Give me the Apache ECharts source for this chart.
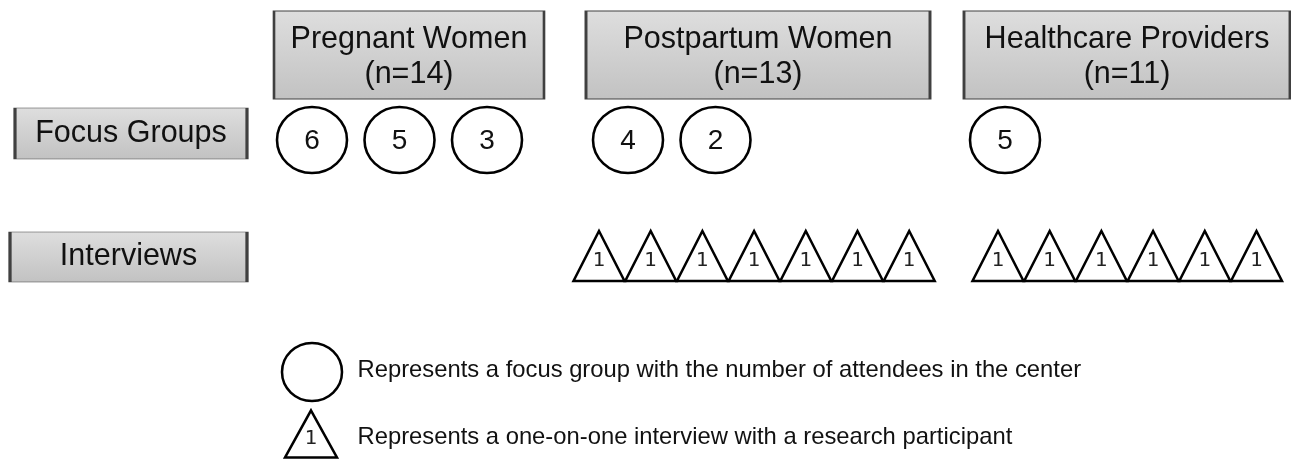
<!DOCTYPE html>
<html>
<head>
<meta charset="utf-8">
<script src="https://cdn.jsdelivr.net/npm/echarts@6/dist/echarts.min.js"></script>
<style>
html,body{margin:0;padding:0;background:#fff;}
#chart{width:1291px;height:464px;}
</style>
</head>
<body>
<div id="chart"></div>
<script>
// ---- data ----
const groups = ['Pregnant Women', 'Postpartum Women', 'Healthcare Providers'];
const groupN = [14, 13, 11];
const rowLabels = ['Focus Groups', 'Interviews'];
const focusGroupSizes = [[6, 5, 3], [4, 2], [5]];
const interviewCounts = [0, 7, 6];
const interviewSize = 1;
const legendTexts = [
  'Represents a focus group with the number of attendees in the center',
  'Represents a one-on-one interview with a research participant'
];

// ---- layout (pixel-space axes) ----
const W = 1291, H = 464;
const headerCx = [409, 758, 1127];
const headerW = [270, 344, 326];
const headerCy = 55, headerH = 88;
const rowBox = [{cx: 131, cy: 133.5, w: 232, h: 51}, {cx: 128.5, cy: 257, w: 237, h: 50}];
const circleStart = [312, 628, 1005], circleStep = 87.5, circleY = 140;
const triStart = [599, 998], triStep = 51.7, triY = 256;
const FONT = 'Liberation Sans, Arial, sans-serif';

const boxGradient = {
  type: 'linear', x: 0, y: 0, x2: 0, y2: 1,
  colorStops: [{offset: 0, color: '#dedede'}, {offset: 1, color: '#c2c2c2'}]
};

const headerData = groups.map((g, i) => ({
  value: [headerCx[i], headerCy], name: g + '\n(n=' + groupN[i] + ')',
  symbolSize: [headerW[i], headerH], label: {offset: [0, 2]}
}));
const rowData = rowLabels.map((r, i) => ({
  value: [rowBox[i].cx, rowBox[i].cy], name: r, symbolSize: [rowBox[i].w, rowBox[i].h]
}));
const circleData = [];
focusGroupSizes.forEach((arr, gi) => {
  arr.forEach((s, k) => circleData.push({value: [circleStart[gi] + k * circleStep, circleY], name: String(s)}));
});
circleData.push({value: [312, 372], name: '', symbolSize: [60, 58]});
const triData = [];
let ti = 0;
interviewCounts.forEach((c, gi) => {
  if (c === 0) return;
  for (let k = 0; k < c; k++) triData.push({value: [triStart[ti] + k * triStep, triY], name: String(interviewSize)});
  ti++;
});
triData.push({value: [311, 434], name: String(interviewSize), symbolSize: [52, 47]});
const legendData = legendTexts.map((t, i) => ({value: [357, i === 0 ? 370 : 437], name: t}));

const chart = echarts.init(document.getElementById('chart'), null, {renderer: 'canvas'});
chart.setOption({
  animation: false,
  backgroundColor: '#ffffff',
  grid: {left: 0, right: 0, top: 0, bottom: 0},
  xAxis: {type: 'value', min: 0, max: W, show: false},
  yAxis: {type: 'value', min: 0, max: H, inverse: true, show: false},
  series: [
    {
      type: 'scatter', symbol: 'rect', data: headerData.concat(rowData), silent: true,
      itemStyle: {color: boxGradient, borderColor: '#404040', borderWidth: 1.5, opacity: 1},
      label: {show: true, position: 'inside', formatter: '{b}', fontFamily: FONT, fontSize: 30.5,
              lineHeight: 35, color: '#111111'}
    },
    {
      type: 'scatter', symbol: 'circle', symbolSize: [70, 66], data: circleData, silent: true,
      itemStyle: {color: '#ffffff', borderColor: '#000000', borderWidth: 2.5, opacity: 1},
      label: {show: true, position: 'inside', offset: [0, 1], formatter: '{b}', fontFamily: FONT, fontSize: 28, color: '#111111'}
    },
    {
      type: 'scatter', symbol: 'triangle', symbolSize: [51, 50], data: triData, silent: true,
      itemStyle: {color: '#ffffff', borderColor: '#000000', borderWidth: 2.5, opacity: 1},
      label: {show: true, position: 'inside', offset: [0, 5], formatter: '{b}', fontFamily: 'DejaVu Sans, sans-serif',
              fontSize: 20, color: '#222222'}
    },
    {
      type: 'scatter', symbol: 'circle', symbolSize: 1, data: legendData, silent: true,
      itemStyle: {color: 'rgba(0,0,0,0)', opacity: 1},
      label: {show: true, position: 'right', distance: 0, formatter: '{b}', fontFamily: FONT, fontSize: 23.8,
              color: '#111111', align: 'left'}
    }
  ]
});
</script>
</body>
</html>
